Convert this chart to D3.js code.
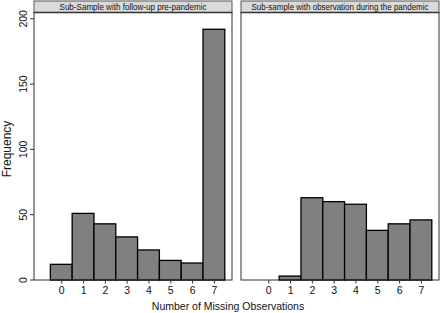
<!DOCTYPE html>
<html><head><meta charset="utf-8">
<script src="https://cdn.jsdelivr.net/npm/d3@7"></script>
<style>body{margin:0;background:#fff}svg{display:block;font-family:"Liberation Sans",Arial,sans-serif}</style>
</head><body><svg id="c" width="440" height="313"></svg>
<script>
const categories = [0,1,2,3,4,5,6,7];
const prePandemic = [12,51,43,33,23,15,13,192];
const duringPandemic = [0,3,63,60,58,38,43,46];
const panelTitles = ["Sub-Sample with follow-up pre-pandemic","Sub-sample with observation during the pandemic"];
const yTicks = [0,50,100,150,200];
const yTitle = "Frequency";
const xTitle = "Number of Missing Observations";

const svg = d3.select("#c");
const plotTop = 12.5, plotBottom = 280;
const panels = [{x0:34,x1:232,data:prePandemic,tl:147},{x0:241,x1:439,data:duringPandemic,tl:177}];
const y = d3.scaleLinear().domain([0,205]).range([plotBottom, plotBottom - 205*1.306]);

panels.forEach((p,i)=>{
  const x = d3.scaleLinear().domain([-1.25,7.83]).range([p.x0,p.x1]);
  const g = svg.append("g");
  // strip
  g.append("rect").attr("x",p.x0).attr("y",1).attr("width",p.x1-p.x0).attr("height",plotTop-1)
    .attr("fill","#dadada").attr("stroke","#555").attr("stroke-width",1);
  g.append("line").attr("x1",p.x0).attr("x2",p.x1).attr("y1",plotTop).attr("y2",plotTop).attr("stroke","#333").attr("stroke-width",1.5);
  g.append("text").attr("x",(p.x0+p.x1)/2).attr("y",10).attr("text-anchor","middle")
    .attr("font-size",8.4).attr("fill","#111")
    .attr("textLength",p.tl).attr("lengthAdjust","spacingAndGlyphs").text(panelTitles[i]);
  // plot frame
  g.append("rect").attr("x",p.x0).attr("y",plotTop).attr("width",p.x1-p.x0).attr("height",plotBottom-plotTop)
    .attr("fill","none").attr("stroke","#333").attr("stroke-width",1);
  // bars
  const w = x(0.5)-x(-0.5);
  g.selectAll("rect.bar").data(categories.map((c,k)=>({c,v:p.data[k]})).filter(d=>d.v>0))
    .enter().append("rect").attr("class","bar")
    .attr("x",d=>x(d.c-0.5)).attr("width",w)
    .attr("y",d=>y(d.v)).attr("height",d=>plotBottom-y(d.v))
    .attr("fill","#808080").attr("stroke","#000").attr("stroke-width",1.3);
  // x axis
  const xa = g.append("g").attr("transform",`translate(0,${plotBottom})`)
    .call(d3.axisBottom(x).tickValues(categories).tickSize(3.5).tickPadding(3.5).tickFormat(d3.format("d")));
  xa.select(".domain").remove();
  xa.selectAll("line").attr("stroke","#333");
  xa.selectAll("text").attr("font-size",10.5).attr("fill","#111").attr("font-family","Liberation Sans, Arial, sans-serif");
  if(i===0){
    const ya = g.append("g").attr("transform",`translate(${p.x0},0)`)
      .call(d3.axisLeft(y).tickValues(yTicks).tickSize(4).tickPadding(3));
    ya.select(".domain").remove();
    ya.selectAll("line").attr("stroke","#333");
    ya.selectAll(".tick").attr("transform",null);
    ya.selectAll(".tick line").attr("y1",d=>y(d)).attr("y2",d=>y(d));
    ya.selectAll("text").attr("font-size",10.5).attr("fill","#111")
      .attr("font-family","Liberation Sans, Arial, sans-serif")
      .attr("text-anchor","middle").attr("dy",0)
      .attr("x",0).attr("y",0)
      .attr("transform",d=>`translate(-7.5,${y(d)}) rotate(-90)`);
  }
});
svg.append("text").attr("transform","translate(10.5,149) rotate(-90)").attr("text-anchor","middle")
  .attr("font-size",12).attr("fill","#111").text(yTitle);
svg.append("text").attr("x",228).attr("y",309.5).attr("text-anchor","middle")
  .attr("font-size",10.5).attr("fill","#111").text(xTitle);
</script></body></html>
